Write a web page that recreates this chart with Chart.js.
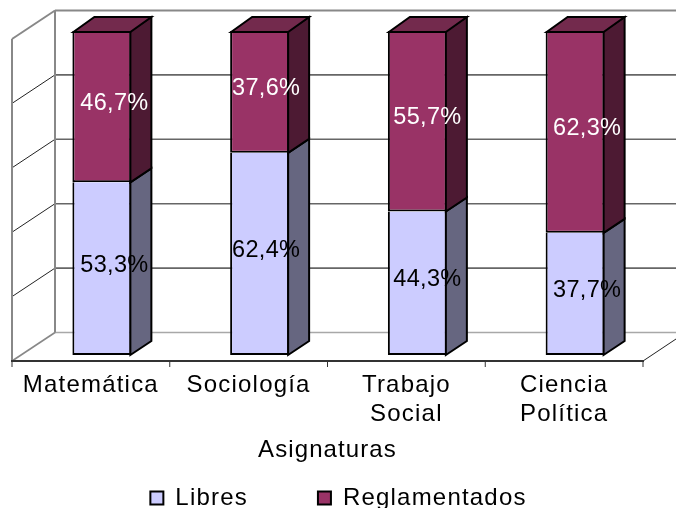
<!DOCTYPE html>
<html><head><meta charset="utf-8">
<style>html,body{margin:0;padding:0;background:#fff}canvas{display:block}</style>
<script src="https://cdn.jsdelivr.net/npm/chart.js@4/dist/chart.umd.min.js"></script>
</head><body>
<div style="width:676px;height:508px"><canvas id="c" width="676" height="508"></canvas></div>
<script>
const categories = [['Matemática'], ['Sociología'], ['Trabajo', 'Social'], ['Ciencia', 'Política']];
const libres = [53.3, 62.4, 44.3, 37.7];
const reglamentados = [46.7, 37.6, 55.7, 62.3];
const yTicks = [0, 20, 40, 60, 80, 100];
const xTitle = 'Asignaturas';
const labelNudgeX = [12.5, 6.5, 10, 12];

const FONT = '"Liberation Sans", Arial, sans-serif';
const DX = 21, DY = -14;
const AXIS_DX = -11;
const SPACING = '1.2px';

function poly(ctx, pts, fill, stroke, lw) {
  ctx.beginPath();
  pts.forEach((p, i) => i ? ctx.lineTo(p[0], p[1]) : ctx.moveTo(p[0], p[1]));
  ctx.closePath();
  if (fill) { ctx.fillStyle = fill; ctx.fill(); }
  if (stroke) { ctx.strokeStyle = stroke; ctx.lineWidth = lw; ctx.lineJoin = 'miter'; ctx.stroke(); }
}
function line(ctx, x1, y1, x2, y2, c, w) {
  ctx.beginPath(); ctx.moveTo(x1, y1); ctx.lineTo(x2, y2);
  ctx.strokeStyle = c; ctx.lineWidth = w; ctx.stroke();
}

const walls = {
  id: 'walls',
  beforeInit(chart) { chart.ctx.letterSpacing = SPACING; },
  beforeLayout(chart) { chart.ctx.letterSpacing = SPACING; },
  beforeDraw(chart) { chart.ctx.letterSpacing = SPACING; },
  beforeDatasetsDraw(chart) {
    const { ctx, scales: { x, y } } = chart;
    const fl = x.left + AXIS_DX, fr = x.right + AXIS_DX;
    const front = v => y.getPixelForValue(v) + 6 + 2 * v / 100;
    const bx = fl + 43, by = -28.5;
    ctx.save();
    yTicks.forEach(v => {
      const py = front(v);
      if (v === 0 || v === 100) return;
      line(ctx, bx, py + by, 676, py + by, '#666666', 1.6);
      line(ctx, fl, py, bx, py + by, '#222222', 1);
    });
    const t = front(100), b = front(0);
    line(ctx, bx, b + by, 676, b + by, '#a8a8a8', 1.6);
    line(ctx, bx, t + by, 676, t + by, '#888888', 2);
    line(ctx, bx, t + by, bx, b + by, '#888888', 2);
    line(ctx, fl, t, fl, b, '#888888', 2);
    line(ctx, fl, t, bx, t + by, '#888888', 2);
    line(ctx, fl, b, bx, b + by, '#888888', 1.6);
    line(ctx, fr, b, 676, b - 22, '#222222', 1);
    const n = categories.length, band = (fr - fl) / n;
    line(ctx, fl - 1, b, fr + 1, b, '#333333', 2);
    for (let i = 0; i <= n; i++) line(ctx, fl + i * band, b, fl + i * band, b + 6, '#333333', 1);
    ctx.restore();
  },
  afterDatasetsDraw(chart) {
    const { ctx } = chart;
    const sideColors = ['#666680', '#4d1a33'];
    const topColor = '#732a4d';
    ctx.save();
    chart.data.datasets.forEach((ds, di) => {
      chart.getDatasetMeta(di).data.forEach(bar => {
        const r = bar.x + bar.width / 2 - 1, l = bar.x - bar.width / 2 + 1;
        poly(ctx, [[r, bar.y], [r + DX, bar.y + DY], [r + DX, bar.base + DY], [r, bar.base]], sideColors[di], '#000', 2);
        if (di === 1) poly(ctx, [[l, bar.y + 1], [l + DX, bar.y + DY], [r + DX, bar.y + DY], [r, bar.y + 1]], topColor, '#000', 2);
      });
    });
    ctx.restore();
  },
  afterDraw(chart) {
    const { ctx, scales: { x } } = chart;
    ctx.save();
    ctx.textAlign = 'center'; ctx.textBaseline = 'middle';
    ctx.letterSpacing = '1.1px';
    ctx.font = '24px ' + FONT;
    ctx.fillStyle = '#000';
    ctx.fillText(xTitle, (x.left + x.right) / 2 + AXIS_DX, 450);
    ctx.letterSpacing = '0.3px';
    ctx.font = '23.5px ' + FONT;
    chart.data.datasets.forEach((ds, di) => {
      ctx.fillStyle = di === 0 ? '#000' : '#fff';
      chart.getDatasetMeta(di).data.forEach((bar, i) => {
        const txt = ds.data[i].toFixed(1).replace('.', ',') + '%';
        ctx.fillText(txt, bar.x + labelNudgeX[i], (bar.y + bar.base) / 2 - 3.5);
      });
    });
    ctx.restore();
  }
};

new Chart(document.getElementById('c'), {
  type: 'bar',
  data: {
    labels: categories,
    datasets: [
      { label: 'Libres', data: libres, backgroundColor: '#ccccff', borderColor: '#000', borderWidth: { left: 2, right: 2, bottom: 2, top: 0 }, borderSkipped: false },
      { label: 'Reglamentados', data: reglamentados, backgroundColor: '#993366', borderColor: '#000', borderWidth: 2, borderSkipped: false }
    ]
  },
  options: {
    responsive: false,
    animation: false,
    layout: { padding: { left: 23, right: 22, top: 31, bottom: -12 } },
    datasets: { bar: { categoryPercentage: 1, barPercentage: 0.374 } },
    scales: {
      x: {
        stacked: true,
        afterFit(s) { s.height = 61; s._computeLabelArea = () => undefined; },
        grid: { display: false, drawTicks: false },
        border: { display: false },
        ticks: { color: '#000', font: { family: FONT, size: 24, lineHeight: 1.2 }, padding: 16, labelOffset: AXIS_DX, maxRotation: 0, minRotation: 0, autoSkip: false }
      },
      y: {
        stacked: true, display: false, min: 0, max: 100,
        afterBuildTicks(s) { s.ticks = yTicks.map(v => ({ value: v })); }
      }
    },
    plugins: {
      tooltip: { enabled: false },
      legend: {
        position: 'bottom',
        labels: {
          color: '#000', font: { family: FONT, size: 24 }, boxWidth: 13, boxHeight: 13, padding: 70,
          generateLabels(chart) {
            return Chart.defaults.plugins.legend.labels.generateLabels(chart).map(it => ({ ...it, lineWidth: 2 }));
          }
        }
      }
    }
  },
  plugins: [walls]
});
</script>
</body></html>
